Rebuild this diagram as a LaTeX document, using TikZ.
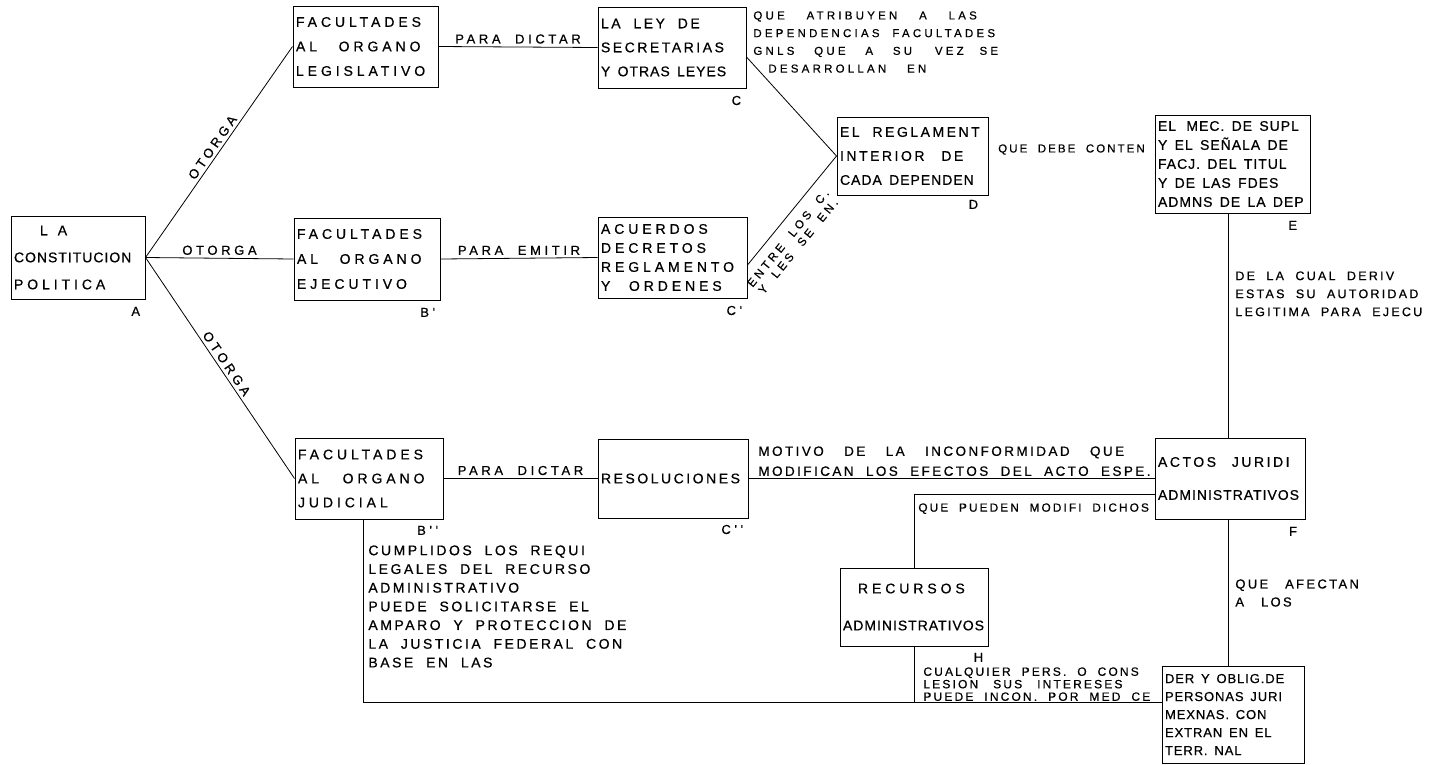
\documentclass[tikz,border=0pt]{standalone}
\usepackage{fontspec}
\setmainfont{Liberation Sans}
\newfontfamily\wideface[LetterSpace=28, WordSpace=2, FakeBold=0.6]{Liberation Sans}
\newfontfamily\noteface[LetterSpace=18, WordSpace=2, FakeBold=0.6]{Liberation Sans}
\newfontfamily\tightface[LetterSpace=7, WordSpace=1.5, FakeBold=0.6]{Liberation Sans}
\newcommand\boxfont[1]{\noteface\fontsize{14}{#1}\selectfont}
\usetikzlibrary{positioning}

\begin{document}
\begin{tikzpicture}[x=1pt, y=-1pt, line width=.8pt,
  box/.style={draw, line width=1pt, inner xsep=3pt, inner ysep=0pt,
    text width=142pt, minimum height=81pt, align=flush left, font=\boxfont{24}},
  widebox/.style={font=\wideface\fontsize{14}{#1}\selectfont},
  tightbox/.style={font=\tightface\fontsize{14}{#1}\selectfont},
  lbl/.style={font=\wideface\fontsize{13}{13}\selectfont, inner sep=3pt},
  note/.style={anchor=north west, align=left, inner sep=0pt,
    font=\noteface\fontsize{14}{18.7}\selectfont},
  tag/.style={font=\wideface\fontsize{13}{13}\selectfont, inner sep=0pt}]
  \fill[white] (0,0) rectangle (1432,764);

  \node[box, tightbox=27, text width=128pt, minimum height=83pt] (A) at (78,257.5)
    {\hspace*{26pt}{\wideface L\hspace{10pt}A}\\CONSTITUCION\\{\wideface POLITICA}};
  \node[box, widebox=24.5, text width=139pt] (B) at (365.5,46.5)
    {FACULTADES\\AL\hspace{6pt} ORGANO\\LEGISLATIVO};
  \node[box, widebox=25, text width=140pt, minimum height=82pt] (Bp) at (367,259)
    {FACULTADES\\AL\hspace{6pt} ORGANO\\EJECUTIVO};
  \node[box, widebox=24] (Bpp) at (369,478.5)
    {FACULTADES\\AL\hspace{8pt} ORGANO\\JUDICIAL};
  \node[box] (C) at (672,47.5)
    {LA LEY DE\\SECRETARIAS\\{\tightface Y OTRAS LEYES}};
  \node[box, widebox=19, text width=143pt] (Cp) at (672.5,257.5)
    {ACUERDOS\\DECRETOS\\REGLAMENTO\\Y\hspace{3pt} ORDENES};
  \node[box, text width=144pt, minimum height=79pt] (Cpp) at (673,478.5)
    {RESOLUCIONES};
  \node[box, text width=145pt, minimum height=78pt] (D) at (912.5,156)
    {EL REGLAMENT\\INTERIOR\hspace{4pt} DE\\{\tightface CADA DEPENDEN}};
  \node[box, tightbox=19, text width=149pt, minimum height=98pt] (E) at (1232.5,164)
    {EL\hspace{3pt} MEC. DE SUPL\\Y EL SEÑALA DE\\FACJ. DEL TITUL\\Y DE LAS FDES\\ADMNS DE LA DEP};
  \node[box, font=\boxfont{33}, text width=144pt] (F) at (1230,478.5)
    {ACTOS\hspace{3pt} JURIDI\\{\tightface ADMINISTRATIVOS}};
  \node[box, font=\boxfont{37}, minimum height=78pt] (H) at (914,607)
    {\hspace*{15pt}{\wideface RECURSOS}\\{\tightface ADMINISTRATIVOS}};
  \node[box, font=\tightface\fontsize{13}{18}\selectfont, text width=136pt,
    minimum height=97pt] (G) at (1233,714.5)
    {DER Y OBLIG.DE\\PERSONAS JURI\\MEXNAS. CON\\EXTRAN EN EL\\TERR. NAL};

  % letters under the boxes
  \node[tag, below left=7pt and 5pt of A.south east] {A};
  \node[tag, below left=7pt and 5pt of Bp.south east] {B'};
  \node[tag, below left=6pt and 5pt of Bpp.south east] {B''};
  \node[tag, below left=7pt and 5pt of C.south east] {C};
  \node[tag, below left=7pt and 5pt of Cp.south east] {C'};
  \node[tag, below left=6pt and 5pt of Cpp.south east] {C''};
  \node[tag, below left=4pt and 10pt of D.south east] {D};
  \node[tag, below left=7pt and 13pt of E.south east] {E};
  \node[tag, below left=7pt and 8pt of F.south east] {F};
  \node[tag, below left=6pt and 5pt of H.south east] {H};

  \coordinate (cd) at (0,57);
  \coordinate (cpd) at (0,265);
  \coordinate (fh) at (0,494);
  \coordinate (ef) at (1228,0);
  \coordinate (bg) at (363,0);
  \coordinate (base) at (0,702);

  \draw (A.east) -- node[lbl, above, sloped] {OTORGA} (B.west);
  \draw (A.east) -- node[lbl, above] {OTORGA} (Bp.west);
  \draw (A.east) -- node[lbl, above, sloped] {OTORGA} (Bpp.west);
  \draw (B.east) -- node[lbl, above] {PARA DICTAR} (C.west);
  \draw (Bp.east) -- node[lbl, above] {PARA EMITIR} (Cp.west);
  \draw (Bpp.east) -- node[lbl, above] {PARA DICTAR} (Cpp.west);
  \draw (C.east |- cd) -- (D.west);
  \draw (Cp.east |- cpd) -- node[lbl, pos=.33, below=7pt, sloped, align=center,
    font=\wideface\fontsize{11.5}{13}\selectfont] {ENTRE LOS C.\\Y LES SE EN.} (D.west);
  \path (D.east) -- node[lbl, above=2pt, font=\noteface\fontsize{11.5}{11.5}\selectfont]
    {QUE DEBE CONTEN} (E.west);
  \draw (ef |- E.south) -- (ef |- F.north);
  \draw (Cpp.east) -- (Cpp.east -| F.west);
  \draw (F.west |- fh) -| (H.north);
  \draw (ef |- F.south) -- (ef |- G.north);
  \draw (H.south) -- (H.south |- base);
  \draw (bg |- Bpp.south) |- (base -| G.west);

  \node[note, font=\wideface\fontsize{11.5}{17.7}\selectfont] (atrib) at (753,11)
    {QUE\hspace{9pt} ATRIBUYEN\hspace{9pt} A\hspace{9pt} LAS\\DEPENDENCIAS FACULTADES\\
     GNLS\hspace{7pt} QUE\hspace{7pt} A\hspace{7pt} SU\hspace{10pt} VEZ\hspace{3pt} SE\\
     \hspace*{15pt}DESARROLLAN\hspace{8pt} EN};
  \node[note, font=\noteface\fontsize{12.5}{18}\selectfont] (deriv) at (1235,271)
    {DE LA CUAL DERIV\\ESTAS SU AUTORIDAD\\LEGITIMA PARA EJECU};
  \node[note, font=\noteface\fontsize{13}{18}\selectfont] (afect) at (1235,579)
    {QUE\hspace{5pt} AFECTAN\\A\hspace{5pt} LOS};
  \node[note, font=\noteface\fontsize{13.5}{20}\selectfont] (motiv) at (758,446)
    {MOTIVO\hspace{8pt} DE\hspace{8pt} LA\hspace{8pt} INCONFORMIDAD\hspace{8pt} QUE\\
     MODIFICAN LOS EFECTOS DEL ACTO ESPE.};
  \node[note, font=\noteface\fontsize{11.8}{12}\selectfont] (modif) at (918,503)
    {QUE PUEDEN MODIFI DICHOS};
  \node[note, font=\noteface\fontsize{12}{12.5}\selectfont] (cualq) at (923,667)
    {CUALQUIER PERS. O CONS\\LESION\hspace{4pt} SUS\hspace{4pt} INTERESES\\
     PUEDE INCON. POR MED CE};
  \node[note] (cumpl) at (368,545)
    {CUMPLIDOS LOS REQUI\\LEGALES DEL RECURSO\\ADMINISTRATIVO\\PUEDE SOLICITARSE EL\\
     AMPARO Y PROTECCION DE\\LA JUSTICIA FEDERAL CON\\BASE EN LAS};
\end{tikzpicture}
\end{document}
